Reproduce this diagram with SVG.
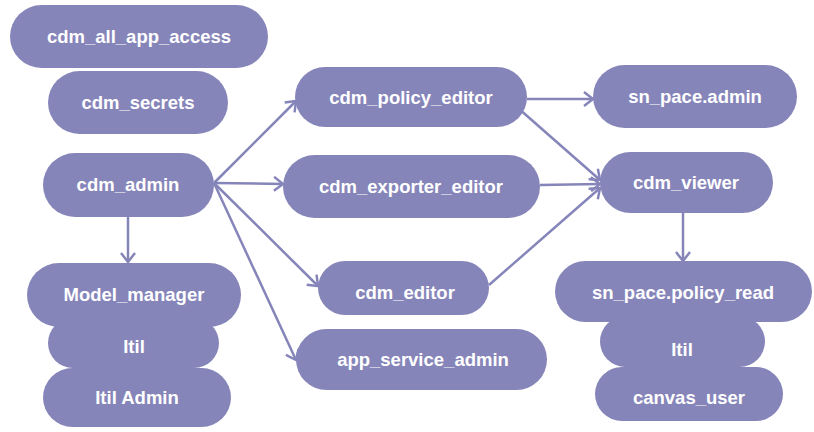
<svg xmlns="http://www.w3.org/2000/svg" width="814" height="432" viewBox="0 0 814 432">
<style>
.n{fill:#8685BA}
.t{fill:#fff;font-family:"Liberation Sans",Arial,sans-serif;font-weight:bold;font-size:18.5px;text-anchor:middle;dominant-baseline:central}
.c{stroke:#8685BA;stroke-width:2.5;fill:none;marker-end:url(#a)}
</style>
<defs>
<marker id="a" markerUnits="userSpaceOnUse" markerWidth="16" markerHeight="16" refX="13" refY="8" orient="auto" viewBox="0 0 16 16">
<path d="M4,1 L13,8 L4,15" fill="none" stroke="#8685BA" stroke-width="2.5"/>
</marker>
</defs>
<g id="connectors">
<line class="c" x1="214" y1="183" x2="296" y2="101"/>
<line class="c" x1="214" y1="183" x2="283" y2="184"/>
<line class="c" x1="214" y1="183" x2="318" y2="286"/>
<line class="c" x1="214" y1="183" x2="296" y2="360"/>
<line class="c" x1="128" y1="217" x2="128" y2="262"/>
<line class="c" x1="527" y1="99" x2="593" y2="99"/>
<line class="c" x1="518" y1="108" x2="600" y2="180"/>
<line class="c" x1="540" y1="185" x2="600" y2="184"/>
<line class="c" x1="489" y1="285" x2="600" y2="188"/>
<line class="c" x1="683" y1="213" x2="683" y2="261"/>
</g>
<g id="cdm_all_app_access"><rect class="n" x="10" y="5" width="258" height="63" rx="31.5"/><text class="t" x="139" y="36">cdm_all_app_access</text></g>
<g id="cdm_secrets"><rect class="n" x="48" y="71" width="180" height="63" rx="31.5"/><text class="t" x="138" y="102">cdm_secrets</text></g>
<g id="cdm_admin"><rect class="n" x="43" y="153" width="171" height="64" rx="32"/><text class="t" x="128" y="184">cdm_admin</text></g>
<g id="itil_admin"><rect class="n" x="43" y="368" width="188" height="59" rx="29.5"/><text class="t" x="137" y="397">Itil Admin</text></g>
<g id="itil_1"><rect class="n" x="48" y="318" width="171" height="50" rx="25"/><text class="t" x="134" y="346">Itil</text></g>
<g id="model_manager"><rect class="n" x="27" y="263" width="214" height="64" rx="32"/><text class="t" x="134" y="294">Model_manager</text></g>
<g id="cdm_policy_editor"><rect class="n" x="295" y="67" width="232" height="60" rx="30"/><text class="t" x="411" y="97">cdm_policy_editor</text></g>
<g id="cdm_exporter_editor"><rect class="n" x="283" y="155" width="257" height="63" rx="31.5"/><text class="t" x="411" y="186">cdm_exporter_editor</text></g>
<g id="cdm_editor"><rect class="n" x="318" y="261" width="171" height="54" rx="27"/><text class="t" x="405" y="292">cdm_editor</text></g>
<g id="app_service_admin"><rect class="n" x="296" y="329" width="251" height="61" rx="30.5"/><text class="t" x="423" y="359">app_service_admin</text></g>
<g id="sn_pace_admin"><rect class="n" x="593" y="65" width="204" height="63" rx="31.5"/><text class="t" x="695" y="96">sn_pace.admin</text></g>
<g id="cdm_viewer"><rect class="n" x="600" y="152" width="173" height="61" rx="30.5"/><text class="t" x="686" y="182">cdm_viewer</text></g>
<g id="canvas_user"><rect class="n" x="595" y="367" width="188" height="54" rx="27"/><text class="t" x="689" y="397">canvas_user</text></g>
<g id="itil_2"><rect class="n" x="600" y="316" width="165" height="51" rx="25.5"/><text class="t" x="682" y="349">Itil</text></g>
<g id="sn_pace_policy_read"><rect class="n" x="555" y="261" width="257" height="61" rx="30.5"/><text class="t" x="683" y="292">sn_pace.policy_read</text></g>
</svg>
